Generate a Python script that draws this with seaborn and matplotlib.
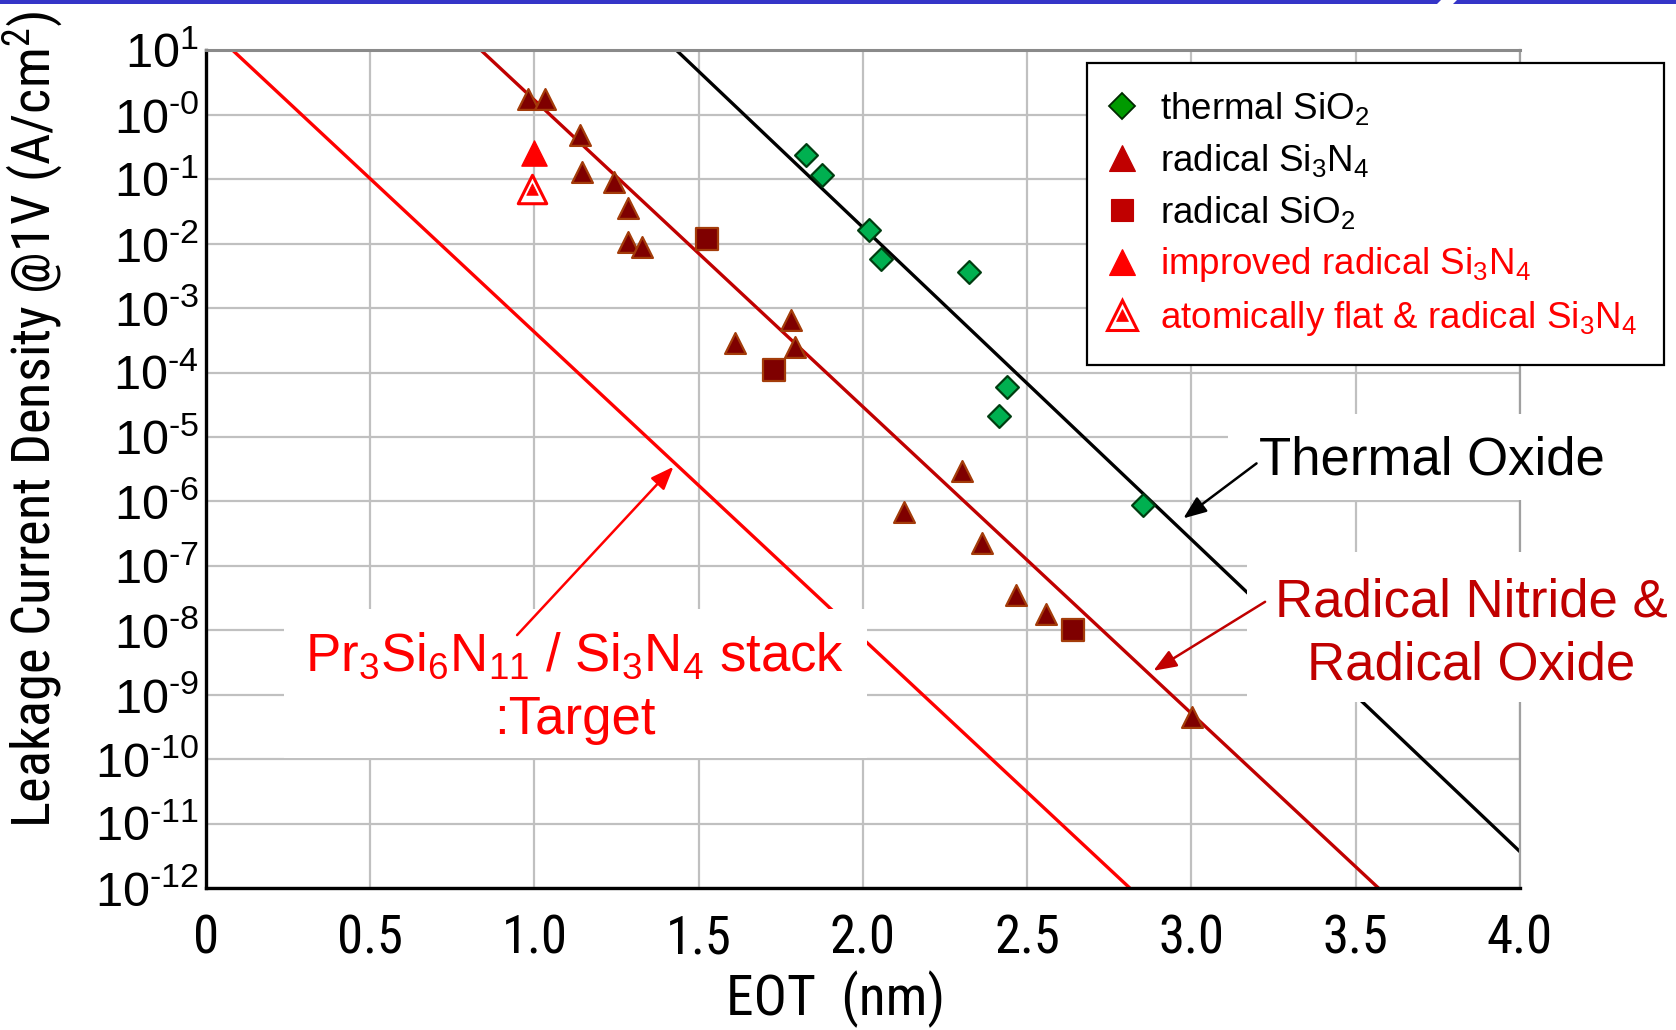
import matplotlib
matplotlib.use("Agg")
import matplotlib.pyplot as plt
import seaborn as sns
from matplotlib import font_manager as fm
from matplotlib.lines import Line2D
from matplotlib.patches import Rectangle, Polygon
from matplotlib.ticker import LogLocator, MultipleLocator, NullFormatter
from matplotlib.legend_handler import HandlerTuple

# ---------------- data ----------------
thermal_sio2_eot = [1.826, 1.876, 2.018, 2.054, 2.323, 2.439, 2.415, 2.852]
thermal_sio2_j = [0.24, 0.114, 0.016, 0.0057, 0.0036, 6.0e-5, 2.1e-5, 8.9e-7]

radical_si3n4_eot = [0.981, 1.031, 1.140, 1.145, 1.243, 1.285, 1.285, 1.327,
                     1.782, 1.611, 1.794, 2.300, 2.124, 2.362, 2.465, 2.556, 3.001]
radical_si3n4_j = [1.75, 1.75, 0.476, 0.129, 0.0887, 0.0354, 0.0107, 0.0089,
                   6.5e-4, 2.85e-4, 2.5e-4, 3.0e-6, 6.8e-7, 2.26e-7, 3.5e-8, 1.8e-8, 4.5e-10]

radical_sio2_eot = [1.524, 1.729, 2.638]
radical_sio2_j = [0.0119, 1.09e-4, 1.0e-8]

improved_si3n4_eot = [0.997]
improved_si3n4_j = [0.254]

flat_si3n4_eot = [0.993]
flat_si3n4_j = [0.071]

thermal_line_eot = [1.432, 4.0]
thermal_line_j = [10.0, 3.7e-12]
radical_line_eot = [0.837, 3.570]
radical_line_j = [10.0, 1e-12]
target_line_eot = [0.081, 2.813]
target_line_j = [10.0, 1e-12]

x_ticks = [0, 0.5, 1.0, 1.5, 2.0, 2.5, 3.0, 3.5, 4.0]
x_tick_labels = ["0", "0.5", "1.0", "1.5", "2.0", "2.5", "3.0", "3.5", "4.0"]
y_ticks = [1e1, 1e0, 1e-1, 1e-2, 1e-3, 1e-4, 1e-5, 1e-6, 1e-7, 1e-8, 1e-9,
           1e-10, 1e-11, 1e-12]
y_tick_labels = [r"10$^{\text{1}}$", r"10$^{\text{-0}}$", r"10$^{\text{-1}}$",
                 r"10$^{\text{-2}}$", r"10$^{\text{-3}}$", r"10$^{\text{-4}}$",
                 r"10$^{\text{-5}}$", r"10$^{\text{-6}}$", r"10$^{\text{-7}}$",
                 r"10$^{\text{-8}}$", r"10$^{\text{-9}}$", r"10$^{\text{-10}}$",
                 r"10$^{\text{-11}}$", r"10$^{\text{-12}}$"]

legend_labels = ["thermal SiO$_2$", "radical Si$_3$N$_4$", "radical SiO$_2$",
                 "improved radical Si$_3$N$_4$", "atomically flat & radical Si$_3$N$_4$"]

x_label = "EOT  (nm)"
y_label = "Leakage Current Density @1V (A/cm$^2$)"

# ---------------- style ----------------
sns.set_style("white")
plt.rcParams["font.family"] = ["Liberation Sans", "DejaVu Sans"]
plt.rcParams["mathtext.fontset"] = "custom"
plt.rcParams["mathtext.rm"] = "Liberation Sans"
plt.rcParams["mathtext.it"] = "Liberation Sans:italic"
plt.rcParams["mathtext.bf"] = "Liberation Sans:bold"
plt.rcParams["mathtext.default"] = "regular"
plt.rcParams["text.color"] = "black"
plt.rcParams["axes.labelcolor"] = "black"
plt.rcParams["xtick.color"] = "black"
plt.rcParams["ytick.color"] = "black"


def has_font(name):
    try:
        fm.findfont(fm.FontProperties(family=name), fallback_to_default=False)
        return True
    except Exception:
        return False


NARROW = "Liberation Sans"
for cand in ["Liberation Sans Narrow", "Arial Narrow", "Roboto Condensed",
             "DejaVu Sans Condensed", "Open Sans Condensed"]:
    if has_font(cand):
        NARROW = cand
        break

DARKRED = "#c00000"
RED = "#ff0000"
MAROON = "#7f0000"
MAROON_EDGE = "#a33c0a"
GREEN = "#00b050"
GREEN_EDGE = "#003d10"

fig = plt.figure(figsize=(16.76, 10.30), dpi=100)

# check whether mathtext \text{} is supported (keeps a hyphen in exponents)
try:
    _t = fig.text(0.5, 0.5, y_tick_labels[1])
    fig.canvas.draw()
    _t.remove()
except Exception:
    _t.remove()
    y_tick_labels = [s.replace(r"\text{", "{") for s in y_tick_labels]

ax = fig.add_axes([0.12291, 0.13757, 0.78401, 0.81369])
ax.set_yscale("log")
ax.set_xlim(0, 4.0)
ax.set_ylim(1e-12, 1e1)

# trend lines
sns.lineplot(x=target_line_eot, y=target_line_j, ax=ax, color=RED, lw=2.4,
             legend=False, sort=False, estimator=None, zorder=2)
sns.lineplot(x=radical_line_eot, y=radical_line_j, ax=ax, color=DARKRED, lw=2.4,
             legend=False, sort=False, estimator=None, zorder=2)
sns.lineplot(x=thermal_line_eot, y=thermal_line_j, ax=ax, color="black", lw=2.4,
             legend=False, sort=False, estimator=None, zorder=2)

# markers
sns.scatterplot(x=thermal_sio2_eot, y=thermal_sio2_j, ax=ax, marker="D", s=135,
                color=GREEN, edgecolor=GREEN_EDGE, linewidth=1.6, zorder=3, legend=False)
sns.scatterplot(x=radical_si3n4_eot, y=radical_si3n4_j, ax=ax, marker="^", s=225,
                color=MAROON, edgecolor=MAROON_EDGE, linewidth=1.6, zorder=3, legend=False)
sns.scatterplot(x=radical_sio2_eot, y=radical_sio2_j, ax=ax, marker="s", s=245,
                color=MAROON, edgecolor=MAROON_EDGE, linewidth=1.6, zorder=3, legend=False)
sns.scatterplot(x=improved_si3n4_eot, y=improved_si3n4_j, ax=ax, marker="^", s=330,
                color=RED, edgecolor=RED, linewidth=1.0, zorder=3, legend=False)
sns.scatterplot(x=flat_si3n4_eot, y=flat_si3n4_j, ax=ax, marker="^", s=420,
                color="white", edgecolor=RED, linewidth=2.2, zorder=3, legend=False)
sns.scatterplot(x=flat_si3n4_eot, y=flat_si3n4_j, ax=ax, marker="^", s=70,
                color=RED, edgecolor=RED, linewidth=0.5, zorder=4, legend=False)

# grid, spines, ticks
ax.set_axisbelow(True)
ax.grid(True, which="major", color="#c0c0c0", lw=1.6)
ax.grid(False, which="minor")
for side in ["left", "bottom"]:
    ax.spines[side].set_color("black")
    ax.spines[side].set_linewidth(2.4)
ax.spines["top"].set_color("#8a8a8a")
ax.spines["top"].set_linewidth(2.2)
ax.spines["right"].set_color("#a0a0a0")
ax.spines["right"].set_linewidth(1.6)

ax.set_xticks(x_ticks, x_tick_labels, fontsize=38, family=NARROW)
ax.set_yticks(y_ticks, y_tick_labels, fontsize=35)
ax.xaxis.set_minor_locator(MultipleLocator(0.25))
ax.xaxis.set_minor_formatter(NullFormatter())
ax.yaxis.set_minor_locator(LogLocator(base=10, subs=range(2, 10), numticks=200))
ax.yaxis.set_minor_formatter(NullFormatter())
ax.tick_params(axis="x", which="major", direction="in", length=12, width=1.6,
               pad=18, top=False, colors="black")
ax.tick_params(axis="x", which="minor", direction="in", length=9, width=1.4, top=False)
ax.tick_params(axis="y", which="major", direction="in", length=11, width=1.8,
               pad=5, right=False, colors="black")
ax.tick_params(axis="y", which="minor", direction="in", length=7, width=1.2, right=False)

ax.set_xlabel(x_label, fontsize=40, family=NARROW, color="black")
ax.set_ylabel(y_label, fontsize=34, family=NARROW, color="black")
ax.xaxis.set_label_coords(0.479, -0.0975)
ax.yaxis.set_label_coords(-0.1065, 0.5594)

# white boxes behind annotations (axes fraction)
for (bx, by, bw, bh) in [(0.7778, 0.4633, 0.40, 0.1026),
                         (0.7922, 0.2223, 0.40, 0.1790),
                         (0.0594, 0.1560, 0.4437, 0.1773)]:
    ax.add_patch(Rectangle((bx, by), bw, bh, transform=ax.transAxes,
                           facecolor="white", edgecolor="none", zorder=4,
                           clip_on=False))

ax.text(3.205, 4.4e-6, "Thermal Oxide", fontsize=38, color="black",
        ha="left", va="center", zorder=5, clip_on=False)
ax.text(3.851, 8.85e-9, "Radical Nitride &\nRadical Oxide", fontsize=38,
        color=DARKRED, ha="center", va="center", multialignment="center",
        linespacing=1.35, zorder=5, clip_on=False)
ax.text(1.123, 1.3e-9, "Pr$_3$Si$_6$N$_{11}$ / Si$_3$N$_4$ stack\n:Target",
        fontsize=38, color=RED, ha="center", va="center", multialignment="center",
        linespacing=1.34, zorder=5, clip_on=False)

# arrows
arrow_kw = dict(arrowstyle="-|>,head_length=1.4,head_width=0.55", lw=1.8,
                shrinkA=0, shrinkB=0)
ax.annotate("", xy=(2.975, 10**-6.262), xytext=(3.198, 10**-5.409),
            arrowprops=dict(color="black", **arrow_kw), zorder=6,
            annotation_clip=False)
ax.annotate("", xy=(2.884, 10**-8.626), xytext=(3.224, 10**-7.556),
            arrowprops=dict(color=DARKRED, **arrow_kw), zorder=6,
            annotation_clip=False)
ax.annotate("", xy=(1.423, 10**-5.461), xytext=(0.947, 10**-8.072),
            arrowprops=dict(color=RED, **arrow_kw), zorder=6,
            annotation_clip=False)

# legend
h_thermal = Line2D([], [], ls="none", marker="D", ms=13, mfc="#009a00",
                   mec="#002a00", mew=1.3)
h_radn = Line2D([], [], ls="none", marker="^", ms=19, mfc=DARKRED, mec=DARKRED, mew=0.8)
h_rado = Line2D([], [], ls="none", marker="s", ms=16, mfc=DARKRED, mec=DARKRED, mew=0.8)
h_imp = Line2D([], [], ls="none", marker="^", ms=19, mfc=RED, mec=RED, mew=0.8)
h_flat_o = Line2D([], [], ls="none", marker="^", ms=21, mfc="white", mec=RED, mew=2.2)
h_flat_i = Line2D([], [], ls="none", marker="^", ms=8, mfc=RED, mec=RED, mew=0.5)
leg = fig.legend([h_thermal, h_radn, h_rado, h_imp, (h_flat_o, h_flat_i)],
                 legend_labels, loc="upper left",
                 bbox_to_anchor=(1087 / 1676, 1 - 63 / 1030), borderaxespad=0,
                 fontsize=26.5, frameon=True, fancybox=False, framealpha=1,
                 edgecolor="black", borderpad=0.74, labelspacing=0.40,
                 handlelength=0.4, handletextpad=0.85,
                 handler_map={tuple: HandlerTuple(ndivide=1)})
leg.get_frame().set_linewidth(1.6)
for txt, col in zip(leg.get_texts(), ["black", "black", "black", RED, RED]):
    txt.set_color(col)

# blue header bar
W, H = 1676.0, 1030.0
fig.add_artist(Polygon([[0, 1.0], [1441 / W, 1.0], [1437 / W, 1 - 4 / H], [0, 1 - 4 / H]],
                       closed=True, transform=fig.transFigure, facecolor="#3535c8",
                       edgecolor="none"))
fig.add_artist(Polygon([[1457 / W, 1.0], [1.0, 1.0], [1.0, 1 - 4 / H], [1453 / W, 1 - 4 / H]],
                       closed=True, transform=fig.transFigure, facecolor="#3535c8",
                       edgecolor="none"))

# fit the y label to the length it has in the reference (about 818 px)
fig.canvas.draw()
renderer = fig.canvas.get_renderer()
ylab = ax.yaxis.label
ext = ylab.get_window_extent(renderer)
if ext.height > 0:
    ylab.set_fontsize(ylab.get_fontsize() * 818.0 / ext.height)

fig.savefig("out.png", dpi=100, facecolor="white")
